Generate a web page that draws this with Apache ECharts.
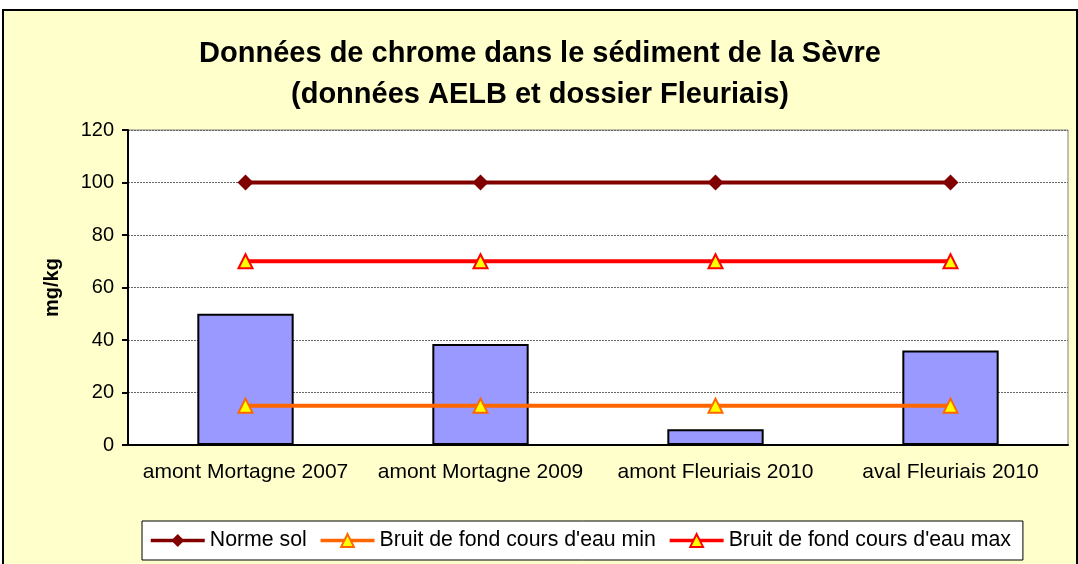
<!DOCTYPE html>
<html>
<head>
<meta charset="utf-8">
<script src="https://cdn.jsdelivr.net/npm/echarts@6/dist/echarts.min.js"></script>
<style>
  html, body { margin: 0; padding: 0; background: #fff; overflow: hidden; }
  #frame {
    position: absolute; left: 2px; top: 9px;
    width: 1072px; height: 560px;
    border: 2px solid #000; background: #FFFFCC;
  }
  #chart { width: 1072px; height: 560px; }
</style>
</head>
<body>
<div id="frame"><div id="chart"></div></div>
<script>
  const categories = ['amont Mortagne 2007', 'amont Mortagne 2009', 'amont Fleuriais 2010', 'aval Fleuriais 2010'];
  const chromeValues = [50, 38.5, 6, 36];
  const normeSol = [100, 100, 100, 100];
  const bruitMin = [15, 15, 15, 15];
  const bruitMax = [70, 70, 70, 70];
  const legendNames = ['Norme sol', "Bruit de fond cours d'eau min", "Bruit de fond cours d'eau max"];

  const font = '"Liberation Sans", Arial, sans-serif';
  const chart = echarts.init(document.getElementById('chart'));

  chart.setOption({
    animation: false,
    backgroundColor: 'transparent',
    title: {
      text: 'Données de chrome dans le sédiment de la Sèvre\n(données AELB et dossier Fleuriais)',
      left: 'center',
      top: 17,
      textStyle: {
        fontFamily: font,
        fontSize: 29,
        fontWeight: 'bold',
        color: '#000',
        lineHeight: 41,
      },
    },
    legend: {
      data: legendNames,
      left: 138,
      top: 510,
      padding: [9, 12, 9, 7],
      itemGap: 12,
      itemWidth: 54,
      itemHeight: 16,
      backgroundColor: '#fff',
      borderColor: '#000',
      borderWidth: 1,
      borderRadius: 0,
      lineStyle: { width: 3.5 },
      textStyle: { fontFamily: font, fontSize: 21.3, color: '#000' },
    },
    grid: {
      left: 124,
      top: 119,
      width: 940,
      height: 315,
      show: true,
      backgroundColor: '#fff',
      borderColor: '#808080',
      borderWidth: 1,
    },
    xAxis: {
      type: 'category',
      data: categories,
      axisLine: { lineStyle: { color: '#000', width: 2 } },
      axisTick: { length: 6, lineStyle: { color: '#000', width: 2 } },
      axisLabel: { interval: 0, fontFamily: font, fontSize: 21, color: '#000', margin: 17 },
    },
    yAxis: {
      type: 'value',
      min: 0,
      max: 120,
      interval: 20,
      name: 'mg/kg',
      nameLocation: 'middle',
      nameGap: 66,
      nameTextStyle: { fontFamily: font, fontSize: 20, fontWeight: 'bold', color: '#000' },
      axisLine: { show: true, lineStyle: { color: '#000', width: 2 } },
      axisTick: { show: true, length: 6, lineStyle: { color: '#000', width: 2 } },
      axisLabel: { fontFamily: font, fontSize: 20, color: '#000', margin: 14 },
      splitLine: { lineStyle: { color: '#666', width: 1, type: [2, 1] } },
    },
    series: [
      {
        name: 'Chrome',
        type: 'bar',
        data: chromeValues,
        barWidth: '41%',
        itemStyle: { color: '#9999FF', borderColor: '#000', borderWidth: 2 },
        z: 2,
      },
      {
        name: legendNames[0],
        type: 'line',
        data: normeSol,
        symbol: 'diamond',
        symbolSize: 16,
        lineStyle: { color: '#800000', width: 4 },
        itemStyle: { color: '#800000' },
        z: 4,
      },
      {
        name: legendNames[1],
        type: 'line',
        data: bruitMin,
        symbol: 'triangle',
        symbolSize: 14,
        lineStyle: { color: '#FF6600', width: 4 },
        itemStyle: { color: '#FFFF00', borderColor: '#FF6600', borderWidth: 2 },
        z: 4,
      },
      {
        name: legendNames[2],
        type: 'line',
        data: bruitMax,
        symbol: 'triangle',
        symbolSize: 14,
        lineStyle: { color: '#FF0000', width: 4 },
        itemStyle: { color: '#FFFF00', borderColor: '#FF0000', borderWidth: 2 },
        z: 4,
      },
    ],
  });
</script>
</body>
</html>
